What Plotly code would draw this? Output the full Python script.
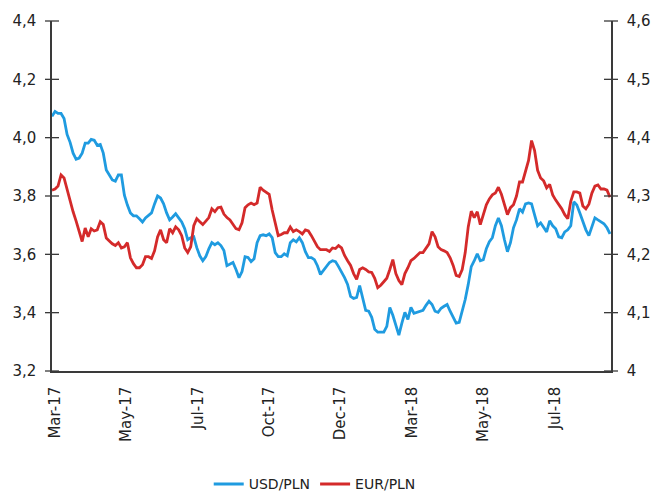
import pandas as pd
import plotly.graph_objects as go

# Exchange rates, one reading every 3 days starting 2017-03-08
start_date = "2017-03-08"

usd_pln = [
    4.073, 4.090, 4.083, 4.083, 4.066, 4.011, 3.984, 3.947, 3.926, 3.930,
    3.947, 3.981, 3.981, 3.994, 3.991, 3.974, 3.977, 3.947, 3.889, 3.872,
    3.855, 3.851, 3.872, 3.872, 3.803, 3.769, 3.742, 3.732, 3.732, 3.722,
    3.711, 3.725, 3.735, 3.742, 3.773, 3.800, 3.793, 3.773, 3.742, 3.718,
    3.728, 3.739, 3.725, 3.711, 3.688, 3.650, 3.657, 3.660, 3.623, 3.595,
    3.578, 3.592, 3.619, 3.640, 3.633, 3.640, 3.630, 3.613, 3.561, 3.568,
    3.572, 3.548, 3.520, 3.541, 3.592, 3.589, 3.575, 3.585, 3.640, 3.664,
    3.667, 3.664, 3.670, 3.657, 3.606, 3.592, 3.592, 3.602, 3.595, 3.640,
    3.650, 3.643, 3.657, 3.640, 3.609, 3.589, 3.589, 3.582, 3.561, 3.531,
    3.544, 3.555, 3.572, 3.578, 3.575, 3.558, 3.541, 3.520, 3.497, 3.456,
    3.449, 3.452, 3.493, 3.445, 3.408, 3.405, 3.384, 3.343, 3.333, 3.333,
    3.333, 3.353, 3.418, 3.391, 3.353, 3.323, 3.364, 3.401, 3.377, 3.418,
    3.398, 3.401, 3.405, 3.408, 3.425, 3.439, 3.428, 3.405, 3.401, 3.415,
    3.422, 3.428, 3.405, 3.384, 3.364, 3.367, 3.405, 3.445, 3.497, 3.558,
    3.578, 3.602, 3.578, 3.582, 3.619, 3.643, 3.657, 3.698, 3.725, 3.698,
    3.650, 3.609, 3.640, 3.691, 3.718, 3.756, 3.745, 3.773, 3.776, 3.773,
    3.735, 3.698, 3.708, 3.694, 3.677, 3.715, 3.698, 3.688, 3.660, 3.657,
    3.677, 3.684, 3.698, 3.780, 3.769, 3.742, 3.711, 3.684, 3.664, 3.691,
    3.725, 3.718, 3.711, 3.705, 3.691, 3.670,
]

eur_pln = [
    4.310, 4.312, 4.317, 4.336, 4.331, 4.310, 4.293, 4.273, 4.257, 4.239,
    4.222, 4.245, 4.230, 4.244, 4.240, 4.242, 4.256, 4.251, 4.228, 4.223,
    4.218, 4.215, 4.220, 4.211, 4.213, 4.220, 4.194, 4.184, 4.177, 4.177,
    4.182, 4.196, 4.196, 4.193, 4.206, 4.230, 4.242, 4.225, 4.220, 4.244,
    4.237, 4.247, 4.242, 4.232, 4.211, 4.203, 4.213, 4.249, 4.261, 4.256,
    4.251, 4.257, 4.263, 4.278, 4.273, 4.280, 4.281, 4.269, 4.263, 4.259,
    4.252, 4.244, 4.242, 4.254, 4.280, 4.285, 4.288, 4.285, 4.288, 4.315,
    4.310, 4.307, 4.303, 4.276, 4.254, 4.232, 4.234, 4.237, 4.237, 4.247,
    4.239, 4.242, 4.239, 4.235, 4.242, 4.240, 4.232, 4.223, 4.213, 4.208,
    4.208, 4.208, 4.205, 4.211, 4.210, 4.215, 4.211, 4.198, 4.189, 4.181,
    4.167, 4.157, 4.174, 4.177, 4.174, 4.170, 4.169, 4.159, 4.143, 4.147,
    4.153, 4.159, 4.174, 4.191, 4.167, 4.155, 4.148, 4.167, 4.177, 4.189,
    4.193, 4.198, 4.203, 4.203, 4.211, 4.218, 4.239, 4.230, 4.213, 4.208,
    4.206, 4.203, 4.194, 4.181, 4.164, 4.162, 4.174, 4.203, 4.247, 4.274,
    4.263, 4.273, 4.251, 4.266, 4.285, 4.295, 4.302, 4.305, 4.315, 4.303,
    4.286, 4.268, 4.280, 4.285, 4.300, 4.324, 4.324, 4.344, 4.361, 4.395,
    4.378, 4.344, 4.331, 4.326, 4.314, 4.320, 4.302, 4.293, 4.286, 4.278,
    4.268, 4.261, 4.291, 4.307, 4.307, 4.305, 4.283, 4.278, 4.286, 4.305,
    4.317, 4.319, 4.312, 4.312, 4.310, 4.298,
]

tick_dates = ["2017-03-11", "2017-05-21", "2017-07-31", "2017-10-10",
              "2017-12-20", "2018-03-01", "2018-05-11", "2018-07-21"]
tick_labels = ["Mar-17", "May-17", "Jul-17", "Oct-17",
               "Dec-17", "Mar-18", "May-18", "Jul-18"]

usd_ticks = [3.2, 3.4, 3.6, 3.8, 4.0, 4.2, 4.4]
eur_ticks = [4.0, 4.1, 4.2, 4.3, 4.4, 4.5, 4.6]

usd_dates = pd.date_range(start_date, periods=len(usd_pln), freq="3D")
eur_dates = pd.date_range(start_date, periods=len(eur_pln), freq="3D")
x_start = usd_dates[0]
x_end = usd_dates[-1] + pd.Timedelta(days=1)

BLUE = "#1f9be0"
RED = "#d42a2a"
AXIS = "#3a3a3a"
FONT = "DejaVu Sans"

fig = go.Figure()
fig.add_trace(go.Scatter(x=usd_dates, y=usd_pln, name="USD/PLN", mode="lines",
                         line=dict(color=BLUE, width=2.8), yaxis="y"))
fig.add_trace(go.Scatter(x=eur_dates, y=eur_pln, name="EUR/PLN", mode="lines",
                         line=dict(color=RED, width=2.8), yaxis="y2"))

# tick crosses straddling both value axes
cross = dict(symbol="line-ew", size=10, line=dict(color=AXIS, width=1.3))
fig.add_trace(go.Scatter(x=[x_start] * len(usd_ticks), y=usd_ticks,
                         mode="markers", marker=cross, yaxis="y",
                         cliponaxis=False, showlegend=False,
                         hoverinfo="skip"))
fig.add_trace(go.Scatter(x=[x_end] * len(eur_ticks), y=eur_ticks,
                         mode="markers", marker=cross, yaxis="y2",
                         cliponaxis=False, showlegend=False,
                         hoverinfo="skip"))

fig.update_layout(
    width=654, height=494,
    margin=dict(l=52, r=43, t=21, b=123, autoexpand=False),
    paper_bgcolor="white", plot_bgcolor="white",
    separators=",.",
    font=dict(family=FONT, size=15, color="#222222"),
    showlegend=True,
    legend=dict(orientation="h", x=0.47, xanchor="center", y=-0.324,
                yanchor="middle", itemwidth=30, font=dict(size=14),
                traceorder="normal"),
    xaxis=dict(type="date", range=[x_start, x_end],
               tickvals=tick_dates, ticktext=tick_labels, tickangle=-90,
               ticks="", showgrid=False, zeroline=False, automargin=False,
               showline=True, linecolor=AXIS, linewidth=1.5,
               ticklabelstandoff=8),
    yaxis=dict(range=[3.2, 4.4], tickvals=usd_ticks, tickformat=".1f",
               ticks="", showline=True, linecolor=AXIS, linewidth=1.5,
               side="left", automargin=False, ticklabelstandoff=11,
               showgrid=False, zeroline=False),
    yaxis2=dict(range=[4.0, 4.6], tickvals=eur_ticks, ticks="",
                showline=True, linecolor=AXIS, linewidth=1.5, side="right",
                overlaying="y", automargin=False, ticklabelstandoff=11,
                showgrid=False, zeroline=False),
)

fig.write_html("out.html")
